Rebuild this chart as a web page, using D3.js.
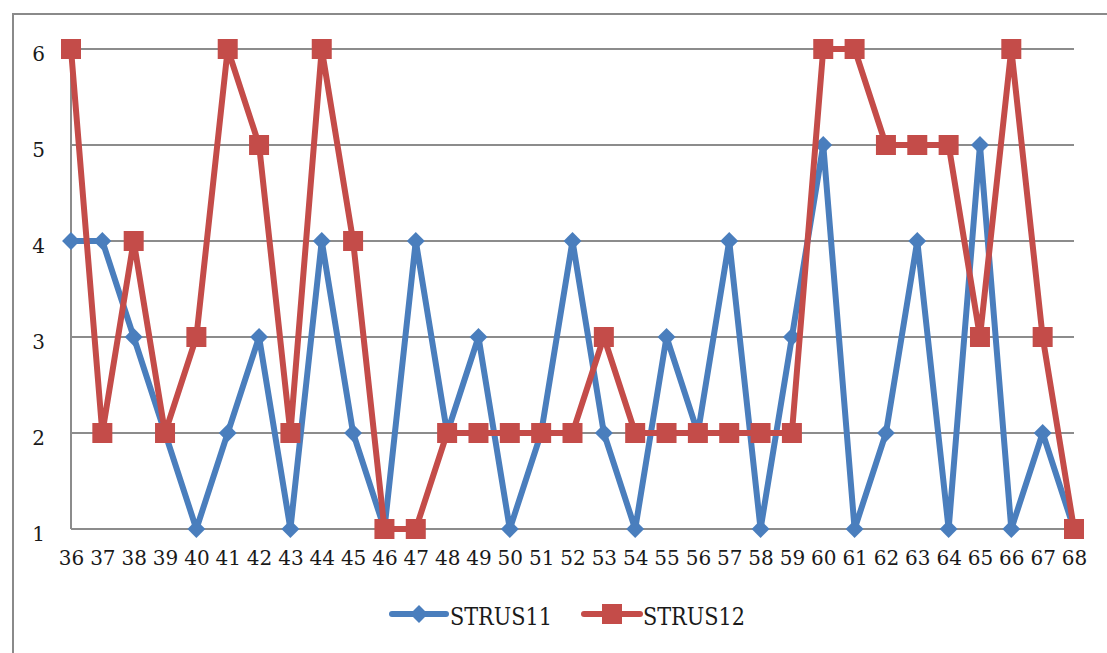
<!DOCTYPE html>
<html>
<head>
<meta charset="utf-8">
<script src="https://cdn.jsdelivr.net/npm/d3@7"></script>
<style>
  html, body { margin: 0; padding: 0; background: #fff; }
  svg { display: block; }
  text { font-family: "DejaVu Serif", "Liberation Serif", serif; fill: #1a1a1a; }
</style>
</head>
<body>
<svg id="chart" width="1107" height="653"></svg>
<script>
// Categories along the x axis
const categories = [36,37,38,39,40,41,42,43,44,45,46,47,48,49,50,51,52,53,54,55,56,57,58,59,60,61,62,63,64,65,66,67,68];

// Series values
const strus11 = [4,4,3,2,1,2,3,1,4,2,1,4,2,3,1,2,4,2,1,3,2,4,1,3,5,1,2,4,1,5,1,2,1];
const strus12 = [6,2,4,2,3,6,5,2,6,4,1,1,2,2,2,2,2,3,2,2,2,2,2,2,6,6,5,5,5,3,6,3,1];

const seriesNames = ["STRUS11", "STRUS12"];
const yTicks = [1,2,3,4,5,6];

const colors = { STRUS11: "#4a7ebd", STRUS12: "#c44c49" };
const fontFamily = "DejaVu Serif, Liberation Serif, serif";

const svg = d3.select("#chart");

// Outer chart frame
svg.append("rect")
  .attr("x", 13).attr("y", 14)
  .attr("width", 1110).attr("height", 660)
  .attr("fill", "none")
  .attr("stroke", "#8a8a8a")
  .attr("stroke-width", 2);

const x = d3.scalePoint()
  .domain(categories)
  .range([71, 1074])
  .padding(0);

const y = d3.scaleLinear()
  .domain([1, 6])
  .range([529, 49]);

// Horizontal gridlines
svg.append("g")
  .selectAll("line")
  .data(yTicks)
  .join("line")
  .attr("x1", 71).attr("x2", 1074)
  .attr("y1", d => y(d)).attr("y2", d => y(d))
  .attr("stroke", "#8c8c8c")
  .attr("stroke-width", 2);

// Vertical value axis line
svg.append("line")
  .attr("x1", 71).attr("x2", 71)
  .attr("y1", y(6)).attr("y2", y(1))
  .attr("stroke", "#8c8c8c")
  .attr("stroke-width", 2);

// Y axis labels
const yAxis = d3.axisLeft(y).tickValues(yTicks).tickSize(0).tickPadding(0).tickFormat(d3.format("d"));
const gy = svg.append("g").attr("transform", "translate(45,0)").call(yAxis);
gy.attr("font-family", fontFamily).attr("font-size", 20);
gy.select(".domain").remove();
gy.selectAll("text")
  .attr("font-size", 20)
  .attr("font-family", fontFamily)
  .attr("fill", "#1a1a1a")
  .attr("dy", "0.55em");

// X axis labels
const xAxis = d3.axisBottom(x).tickSize(0).tickPadding(0);
const gx = svg.append("g").attr("transform", "translate(0,565)").call(xAxis);
gx.attr("font-family", fontFamily).attr("font-size", 20);
gx.select(".domain").remove();
gx.selectAll("text")
  .attr("font-size", 20)
  .attr("font-family", fontFamily)
  .attr("fill", "#1a1a1a")
  .attr("y", 0)
  .attr("dy", "0");

const data = {
  STRUS11: categories.map((c, i) => ({ c, v: strus11[i] })),
  STRUS12: categories.map((c, i) => ({ c, v: strus12[i] }))
};

const line = d3.line().x(d => x(d.c)).y(d => y(d.v));

seriesNames.forEach(name => {
  const g = svg.append("g");
  g.append("path")
    .datum(data[name])
    .attr("d", line)
    .attr("fill", "none")
    .attr("stroke", colors[name])
    .attr("stroke-width", 6)
    .attr("stroke-linejoin", "round");
  if (name === "STRUS11") {
    g.selectAll("path.m")
      .data(data[name])
      .join("path")
      .attr("class", "m")
      .attr("d", d3.symbol().type(d3.symbolSquare).size(160))
      .attr("transform", d => `translate(${x(d.c)},${y(d.v)}) rotate(45)`)
      .attr("fill", colors[name]);
  } else {
    g.selectAll("rect.m")
      .data(data[name])
      .join("rect")
      .attr("class", "m")
      .attr("x", d => x(d.c) - 10)
      .attr("y", d => y(d.v) - 10)
      .attr("width", 20).attr("height", 20)
      .attr("fill", colors[name]);
  }
});

// Legend
const legend = svg.append("g").attr("transform", "translate(0,614)");
const legendItems = [
  { name: "STRUS11", x0: 392, x1: 446, tx: 450 },
  { name: "STRUS12", x0: 584, x1: 640, tx: 643 }
];
legendItems.forEach(it => {
  legend.append("line")
    .attr("x1", it.x0).attr("x2", it.x1)
    .attr("y1", 0).attr("y2", 0)
    .attr("stroke", colors[it.name])
    .attr("stroke-width", 6)
    .attr("stroke-linecap", "round");
  const mx = (it.x0 + it.x1) / 2;
  if (it.name === "STRUS11") {
    legend.append("path")
      .attr("d", d3.symbol().type(d3.symbolSquare).size(160)())
      .attr("transform", `translate(${mx},0) rotate(45)`)
      .attr("fill", colors[it.name]);
  } else {
    legend.append("rect")
      .attr("x", mx - 10).attr("y", -10)
      .attr("width", 20).attr("height", 20)
      .attr("fill", colors[it.name]);
  }
  legend.append("text")
    .attr("x", it.tx).attr("y", 11)
    .attr("font-size", 24)
    .attr("font-family", fontFamily)
    .attr("textLength", 102)
    .attr("lengthAdjust", "spacingAndGlyphs")
    .text(it.name);
});
</script>
</body>
</html>
